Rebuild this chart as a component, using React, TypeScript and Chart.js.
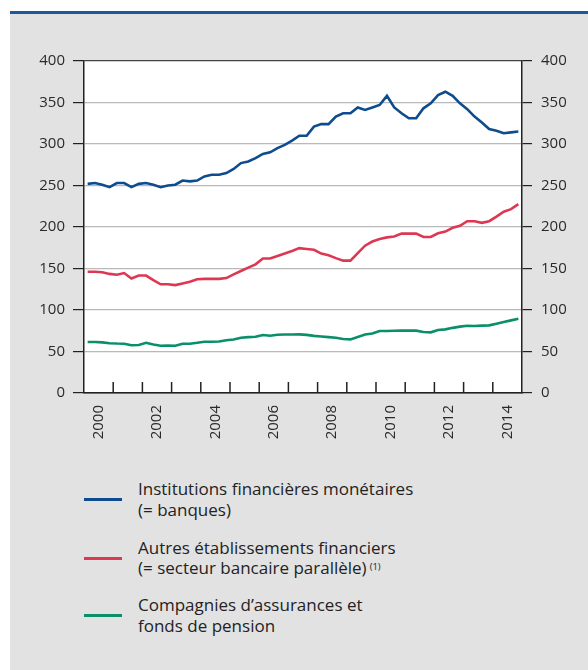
import React, { useEffect, useRef } from 'react';
import { Chart, registerables } from 'chart.js';

Chart.register(...registerables);

// ---- data (quarterly, 2000 Q1 .. 2014 Q4) ----
const firstYear = 2000;
const yearCount = 15;
const yearLabels = ['2000', '2002', '2004', '2006', '2008', '2010', '2012', '2014'];
const yMin = 0;
const yMax = 400;
const yStep = 50;

const seriesNames = [
  'Institutions financières monétaires',
  'Autres établissements financiers',
  "Compagnies d’assurances et fonds de pension",
];

const banks = [
  252, 253, 251, 248, 253, 253, 248, 252, 253, 251, 248, 250,
  251, 256, 255, 256, 261, 263, 263, 265, 270, 277, 279, 283,
  288, 290, 295, 299, 304, 310, 310, 321, 324, 324, 333, 337,
  337, 344, 341, 344, 347, 358, 344, 337, 331, 331, 343, 349,
  359, 363, 358, 349, 342, 333, 326, 318, 316, 313, 314, 315,
];

const shadowBanking = [
  146, 146, 145.5, 143.5, 142.5, 144.5, 138, 141.5, 141.5, 136, 131, 131,
  130, 132, 134, 137, 137.5, 137.5, 137.5, 138.5, 143, 147, 151, 155,
  162, 162, 165, 168, 171, 174.5, 173.5, 172.5, 168, 166, 162.5, 159.5,
  159.5, 168.5, 177.5, 182.5, 185.5, 187.5, 188.5, 192, 192, 192, 188, 188,
  192.5, 194.5, 199, 201.5, 207, 207, 205, 207, 212.5, 218.5, 221.5, 227.5,
];

const insurance = [
  61.4, 61.4, 61, 60, 59.6, 59.4, 57.5, 57.8, 60.5, 58.5, 57, 57.2,
  57, 59.4, 59.4, 60.5, 61.8, 61.8, 62, 63.5, 64.5, 66.5, 67.3, 67.8,
  69.9, 69, 70.2, 70.4, 70.5, 70.6, 70, 68.8, 68, 67.3, 66.5, 65,
  64.6, 67.5, 70.5, 71.6, 74.7, 74.7, 75, 75.1, 75.1, 75.1, 73.5, 73.1,
  75.9, 76.7, 78.5, 80, 81.1, 80.8, 81.2, 81.5, 83.5, 85.5, 87.5, 89.5,
];

const colors = ['#0d4c8e', '#dd3852', '#0b8f6a'];

const FONT = '"Open Sans", "Noto Sans", sans-serif';

const toPoints = (vals: number[]) => vals.map((v, i) => ({ x: i + 0.5, y: v }));

const paperPlugin = {
  id: 'paper',
  beforeDraw(chart: any) {
    const { ctx, chartArea: a } = chart;
    ctx.save();
    ctx.fillStyle = '#ffffff';
    ctx.fillRect(a.left, a.top, a.right - a.left, a.bottom - a.top);
    ctx.restore();
  },
  afterDatasetsDraw(chart: any) {
    const { ctx, chartArea: a } = chart;
    const xs = chart.scales.x;
    ctx.save();
    ctx.strokeStyle = '#222';
    ctx.lineWidth = 1.5;
    ctx.beginPath();
    for (let k = 1; k < yearCount; k++) {
      const px = xs.getPixelForValue(k * 4);
      ctx.moveTo(px, a.bottom);
      ctx.lineTo(px, a.bottom - 11);
    }
    ctx.stroke();
    ctx.restore();
  },
};

export default function App() {
  const ref = useRef<HTMLCanvasElement | null>(null);

  useEffect(() => {
    if (!ref.current) return;
    const gridColor = (c: any) =>
      c.tick && (c.tick.value === yMax || c.tick.value === yMin) ? '#444' : '#b9b9b9';
    const yCommon = {
      min: yMin,
      max: yMax,
      border: { display: true, color: '#222', width: 1.5 },
    };
    const tickFont = { family: FONT, size: 15 };
    const chart = new Chart(ref.current, {
      type: 'line',
      data: {
        datasets: [
          { label: seriesNames[0], data: toPoints(banks), borderColor: colors[0] },
          { label: seriesNames[1], data: toPoints(shadowBanking), borderColor: colors[1] },
          { label: seriesNames[2], data: toPoints(insurance), borderColor: colors[2] },
        ].map((d) => ({
          ...d,
          borderWidth: 2.6,
          pointRadius: 0,
          tension: 0,
          fill: false,
          yAxisID: 'y',
        })),
      },
      options: {
        animation: false,
        responsive: false,
        devicePixelRatio: 1,
        layout: { padding: { left: 10, right: 6, top: 61, bottom: 7 } },
        plugins: { legend: { display: false }, tooltip: { enabled: false } },
        scales: {
          x: {
            type: 'linear',
            position: 'bottom',
            min: 0,
            max: yearCount * 4,
            afterBuildTicks: (scale: any) => {
              scale.ticks = yearLabels.map((l) => ({ value: (Number(l) - firstYear) * 4 + 2 }));
            },
            afterFit: (scale: any) => {
              scale.height = 60;
            },
            ticks: {
              autoSkip: false,
              minRotation: 90,
              maxRotation: 90,
              color: '#2a2a2a',
              font: tickFont,
              padding: 12,
              callback: (_v: any, i: number) => yearLabels[i],
            },
            grid: { display: true, drawOnChartArea: false, drawTicks: false },
            border: { display: true, color: '#222', width: 1.5 },
          },
          y: {
            ...yCommon,
            position: 'left',
            ticks: { stepSize: yStep, color: '#2a2a2a', font: tickFont, padding: 8 },
            afterFit: (scale: any) => {
              scale.width = 74;
            },
            grid: { color: gridColor, lineWidth: 1.2, tickColor: '#222', tickLength: 11 },
          },
          y2: {
            ...yCommon,
            position: 'right',
            ticks: { stepSize: yStep, color: '#2a2a2a', font: tickFont, padding: 9 },
            afterFit: (scale: any) => {
              scale.width = 60;
            },
            grid: { drawOnChartArea: false, color: '#222', tickColor: '#222', tickLength: 10, lineWidth: 1.2 },
          },
        },
      },
      plugins: [paperPlugin],
    } as any);
    return () => chart.destroy();
  }, []);

  const legendItems = [
    { color: colors[0], lines: ['Institutions financières monétaires', '(= banques)'], base: 496, sup: '' },
    { color: colors[1], lines: ['Autres établissements financiers', '(= secteur bancaire parallèle)'], base: 554.5, sup: '(1)' },
    { color: colors[2], lines: ['Compagnies d’assurances et', 'fonds de pension'], base: 612, sup: '' },
  ];

  return (
    <div style={{ position: 'absolute', left: 0, top: 0, width: 588, height: 670, background: '#fff', overflow: 'hidden' }}>
      <div style={{ position: 'absolute', left: 10, top: 14, width: 578, height: 656, background: '#e2e2e2' }} />
      <div style={{ position: 'absolute', left: 10, top: 11, width: 578, height: 3, background: '#1a5a9a' }} />
      <canvas
        ref={ref}
        width={588}
        height={460}
        style={{ position: 'absolute', left: 0, top: 0, width: 588, height: 460 }}
      />
      {legendItems.map((it, idx) => (
        <React.Fragment key={idx}>
          <div
            style={{
              position: 'absolute',
              left: 84,
              top: it.base + 2,
              width: 38,
              height: 3,
              background: it.color,
            }}
          />
          <div
            style={{
              position: 'absolute',
              left: 138,
              top: it.base - 17,
              fontFamily: FONT,
              fontSize: 17,
              lineHeight: '20.5px',
              color: '#222',
              whiteSpace: 'nowrap',
            }}
          >
            <div>{it.lines[0]}</div>
            <div>
              {it.lines[1]}
              {it.sup ? (
                <span style={{ fontSize: 9.5, verticalAlign: 'top', position: 'relative', top: -1, marginLeft: 3 }}>{it.sup}</span>
              ) : null}
            </div>
          </div>
        </React.Fragment>
      ))}
    </div>
  );
}
